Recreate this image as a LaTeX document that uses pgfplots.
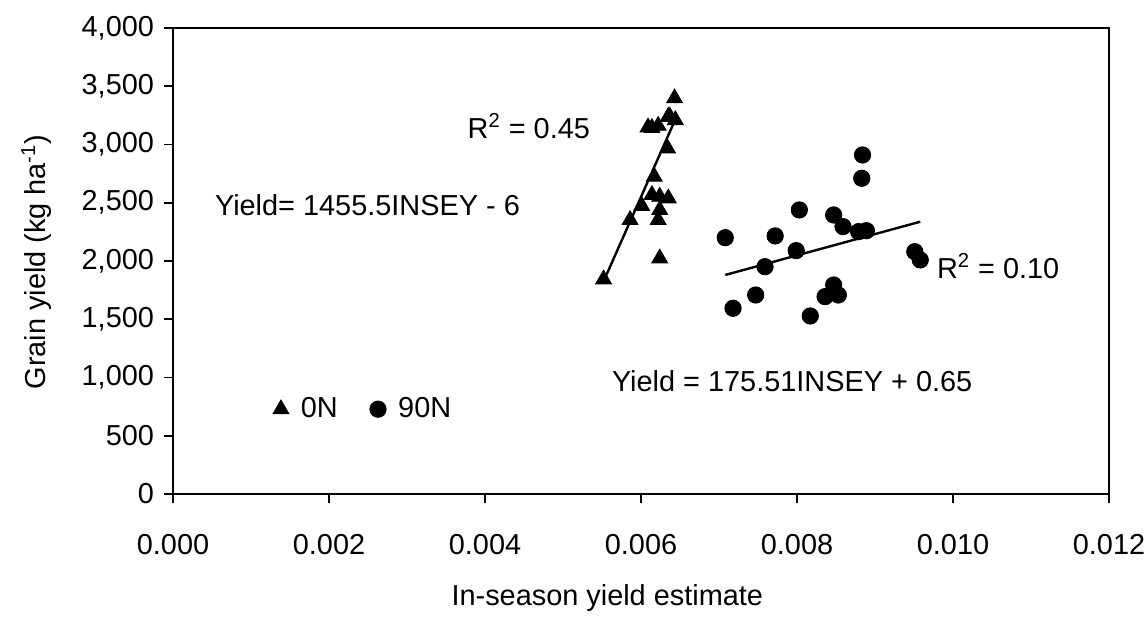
\documentclass[border=0pt]{standalone}
\usepackage{pgfplots}
\pgfplotsset{compat=1.18}
\usepackage{fontspec}
\setmainfont{Liberation Sans}
\begin{document}
\begin{tikzpicture}
\begin{axis}[
  scale only axis,
  width=468bp, height=233bp,
  xmin=0, xmax=0.012, ymin=0, ymax=4000,
  scaled x ticks=false, scaled y ticks=false,
  xtick={0,0.002,0.004,0.006,0.008,0.010,0.012},
  xticklabels={0.000,0.002,0.004,0.006,0.008,0.010,0.012},
  ytick={0,500,1000,1500,2000,2500,3000,3500,4000},
  yticklabels={0,500,{1,000},{1,500},{2,000},{2,500},{3,000},{3,500},{4,000}},
  tick align=outside,
  major tick length=4.5bp,
  tick style={black, line width=0.8bp},
  xtick pos=bottom, ytick pos=left,
  axis line style={line width=1bp},
  tick label style={font=\fontsize{14.5}{17}\selectfont},
  xticklabel style={yshift=-12bp},
  yticklabel style={xshift=-1.5bp},
  clip=false,
  legend style={at={(rel axis cs:0.1,0.182)}, anchor=west, draw=none, fill=none,
    font=\fontsize{14.5}{17}\selectfont, legend columns=2,
    /tikz/every odd column/.append style={column sep=4bp},
    /tikz/every even column/.append style={column sep=14bp}},
  legend cell align=left,
]
\addplot[only marks, mark=triangle*, mark size=4.6bp, black] coordinates {
(0.00643,3397) (0.00637,3239) (0.00614,3142) (0.00609,3147) (0.00622,3161)
(0.00635,3239) (0.00644,3210) (0.00634,2967) (0.00617,2724) (0.00614,2567)
(0.00624,2552) (0.00635,2538) (0.00601,2472) (0.00624,2438) (0.00586,2352)
(0.00622,2352) (0.00624,2023) (0.00552,1843)
};
\addlegendentry{0N}
\addplot[only marks, mark=*, mark size=4.1bp, black] coordinates {
(0.00884,2910) (0.00883,2710) (0.00803,2438) (0.00847,2395) (0.00708,2200)
(0.00772,2215) (0.00859,2295) (0.00879,2252) (0.00889,2260) (0.00799,2089)
(0.00759,1951) (0.00951,2080) (0.00958,2009) (0.00747,1708) (0.00718,1594)
(0.00847,1794) (0.00836,1694) (0.00853,1708) (0.00817,1528)
};
\addlegendentry{90N}
\addplot[black, line width=1.2bp, forget plot] coordinates {(0.00553,1840) (0.00645,3230)};
\addplot[black, line width=1.2bp, forget plot] coordinates {(0.00708,1880) (0.00958,2337)};
\node[anchor=east, font=\fontsize{14.5}{17}\selectfont] at (axis cs:0.005436,3159) {R\textsuperscript{2} = 0.45};
\node[anchor=west, font=\fontsize{14.5}{17}\selectfont] at (axis cs:0.000449,2481) {Yield= 1455.5INSEY - 6};
\node[anchor=west, font=\fontsize{14.5}{17}\selectfont] at (axis cs:0.009705,1957) {R\textsuperscript{2} = 0.10};
\node[anchor=west, font=\fontsize{14.5}{17}\selectfont] at (axis cs:0.005538,970) {Yield = 175.51INSEY + 0.65};
\node[font=\fontsize{14.5}{17}\selectfont] at (rel axis cs:0.464,-0.223) {In-season yield estimate};
\node[rotate=90, font=\fontsize{14.5}{17}\selectfont] at (rel axis cs:-0.146,0.498) {Grain yield (kg ha\textsuperscript{-1})};
\end{axis}
\pgfresetboundingbox
\path[use as bounding box] ([xshift=-86.5bp,yshift=-64.5bp]current axis.south west) rectangle ([xshift=19.5bp,yshift=14bp]current axis.north east);
\end{tikzpicture}
\end{document}
